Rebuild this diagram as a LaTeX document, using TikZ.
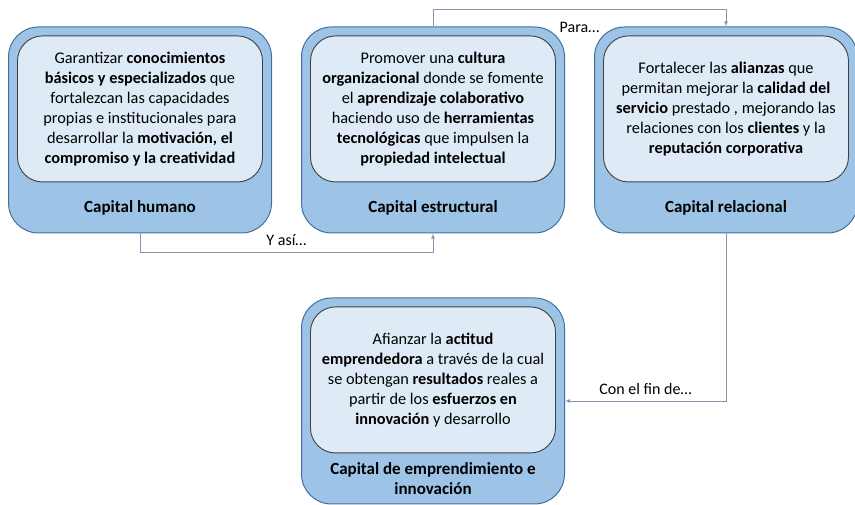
\documentclass[tikz,border=0pt]{standalone}
\usepackage{fontspec}
\setmainfont{Carlito}
\usepackage{tikz}
\usetikzlibrary{arrows,calc,positioning}
\definecolor{capfill}{HTML}{9DC3E6}
\definecolor{capline}{HTML}{41719C}
\definecolor{goalfill}{HTML}{DEEBF7}
\definecolor{conn}{HTML}{8497B0}
\tikzset{
        capital/.style = {draw=capline, fill=capfill, rectangle,
            rounded corners=30pt, line width=1pt,
            minimum width=263pt,
            minimum height=206pt},
        goal/.style = {draw=black!75, fill=goalfill, rectangle,
            rounded corners=25pt, line width=0.9pt, inner sep=0pt,
            minimum width=245pt,
            minimum height=146pt,
            align=center, font=\fontsize{16.3}{20}\selectfont},
        title/.style = {align=center, font=\fontsize{17}{20}\selectfont\bfseries},
        lbl/.style = {font=\fontsize{16}{18}\selectfont},
        arrow/.style = {draw=conn, -latex, line width=0.8pt},
    }

\begin{document}
\begin{tikzpicture}[x=1pt,y=1pt]
        \useasboundingbox (0,0) rectangle (855,505);

        \node[capital] (hum) at (140,375) {};
        \node[capital, right=29pt of hum] (est) {};
        \node[capital, right=29pt of est] (rel) {};
        \node[capital, below=64pt of est] (emp) {};

        \node[goal, below=9pt of hum.north] (humT) {Garantizar \textbf{conocimientos}\\
            \textbf{básicos y especializados} que\\
            fortalezcan las capacidades\\
            propias e institucionales para\\
            desarrollar la \textbf{motivación, el}\\
            \textbf{compromiso y la creatividad}};
        \node[goal, below=9pt of est.north] (estT) {Promover una \textbf{cultura}\\
            \textbf{organizacional} donde se fomente\\
            el \textbf{aprendizaje colaborativo}\\
            haciendo uso de \textbf{herramientas}\\
            \textbf{tecnológicas} que impulsen la\\
            \textbf{propiedad intelectual}};
        \node[goal, below=9pt of rel.north] (relT) {Fortalecer las \textbf{alianzas} que\\
            permitan mejorar la \textbf{calidad del}\\
            \textbf{servicio} prestado , mejorando las\\
            relaciones con los \textbf{clientes} y la\\
            \textbf{reputación corporativa}};
        \node[goal, below=9pt of emp.north] (empT) {Afianzar la \textbf{actitud}\\
            \textbf{emprendedora} a través de la cual\\
            se obtengan \textbf{resultados} reales a\\
            partir de los \textbf{esfuerzos en}\\
            \textbf{innovación} y desarrollo};

        \node[title] at ($(humT.south)!0.5!(hum.south)$) {Capital humano};
        \node[title] at ($(estT.south)!0.5!(est.south)$) {Capital estructural};
        \node[title] at ($(relT.south)!0.5!(rel.south)$) {Capital relacional};
        \node[title] at ($(empT.south)!0.5!(emp.south)$) {Capital de emprendimiento e\\ innovación};

        \coordinate[below=19pt of hum.south] (hum-out);
        \coordinate[above=17pt of est.north] (est-out);

        \draw[arrow] (hum.south) -- (hum-out)
            -- node[lbl, above=3pt] {Y así…} (hum-out -| est.south) -- (est.south);
        \draw[arrow] (est.north) -- (est-out)
            -- node[lbl, below=9pt] {Para…} (est-out -| rel.north) -- (rel.north);
        \draw[arrow] (rel.south) -- (rel.south |- emp.east)
            -- node[lbl, above=3pt] {Con el fin de…} (emp.east);
    \end{tikzpicture}
\end{document}
